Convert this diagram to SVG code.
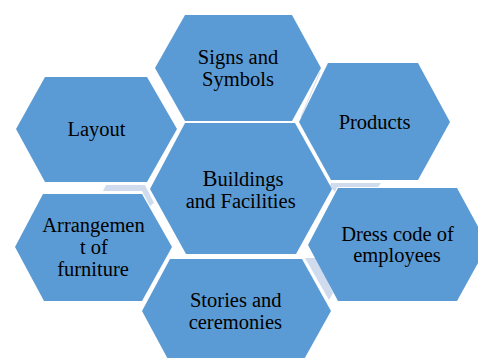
<svg xmlns="http://www.w3.org/2000/svg" width="478" height="358" viewBox="0 0 478 358">
  <style>
    .hex { fill: #5b9bd5; }
    .link { fill: #d0dbee; stroke: none; }
    .label { font-size: 20.5px; fill: #000000; text-anchor: middle; }
  </style>
  <rect width="478" height="358" fill="#ffffff"/>

  <!-- light connector strips between the hexagons -->
  <g id="connectors">
    <polygon class="link" points="106,185 145,185 154,203 150,206 142,191 103,191"/>
    <polygon class="link" points="331,183 381,183 378,187 337,187 335,192 330,186"/>
    <polygon class="link" points="305,258 317,258 333,293 329,300"/>
    <line x1="301" y1="117" x2="320" y2="72" stroke="#d0dbee" stroke-width="1"/>
  </g>

  <g font-family="Liberation Serif, Times New Roman, serif">
  <g id="signs">
    <polygon class="hex" points="185,15 292,15 321,68 292,121 185,121 155,68"/>
    <text class="label" x="238" y="63.5">Signs and</text>
    <text class="label" x="238" y="85.5">Symbols</text>
  </g>

  <g id="layout">
    <polygon class="hex" points="45,77 147,77 177,129 147,182 45,182 16,129"/>
    <text class="label" x="96.5" y="136">Layout</text>
  </g>

  <g id="products">
    <polygon class="hex" points="328,63 418,63 450,122 418,180 331,180 299,122"/>
    <text class="label" x="374.5" y="129">Products</text>
  </g>

  <g id="buildings">
    <polygon class="hex" points="185,123 295,123 332,189 296,254 186,254 150,189"/>
    <text class="label" x="243" y="186"><tspan font-size="22.5px">B</tspan>uildings</text>
    <text class="label" x="240.7" y="208">and Facilities</text>
  </g>

  <g id="arrangement">
    <polygon class="hex" points="43,194 142,194 172,247 142,301 44,301 15,247"/>
    <text class="label" x="93.5" y="232">Arrangemen</text>
    <text class="label" x="94" y="254">t of</text>
    <text class="label" x="93" y="276">furniture</text>
  </g>

  <g id="dress-code">
    <polygon class="hex" points="338,188 457,188 488,245 457,301 338,301 308,245"/>
    <text class="label" x="397.5" y="240.5">Dress code of</text>
    <text class="label" x="397" y="262">employees</text>
  </g>

  <g id="stories">
    <polygon class="hex" points="170,259 302,259 331,311 302,363 170,363 142,311"/>
    <text class="label" x="235.8" y="306.5">Stories and</text>
    <text class="label" x="235.3" y="328.5">ceremonies</text>
  </g>
  </g>
</svg>
